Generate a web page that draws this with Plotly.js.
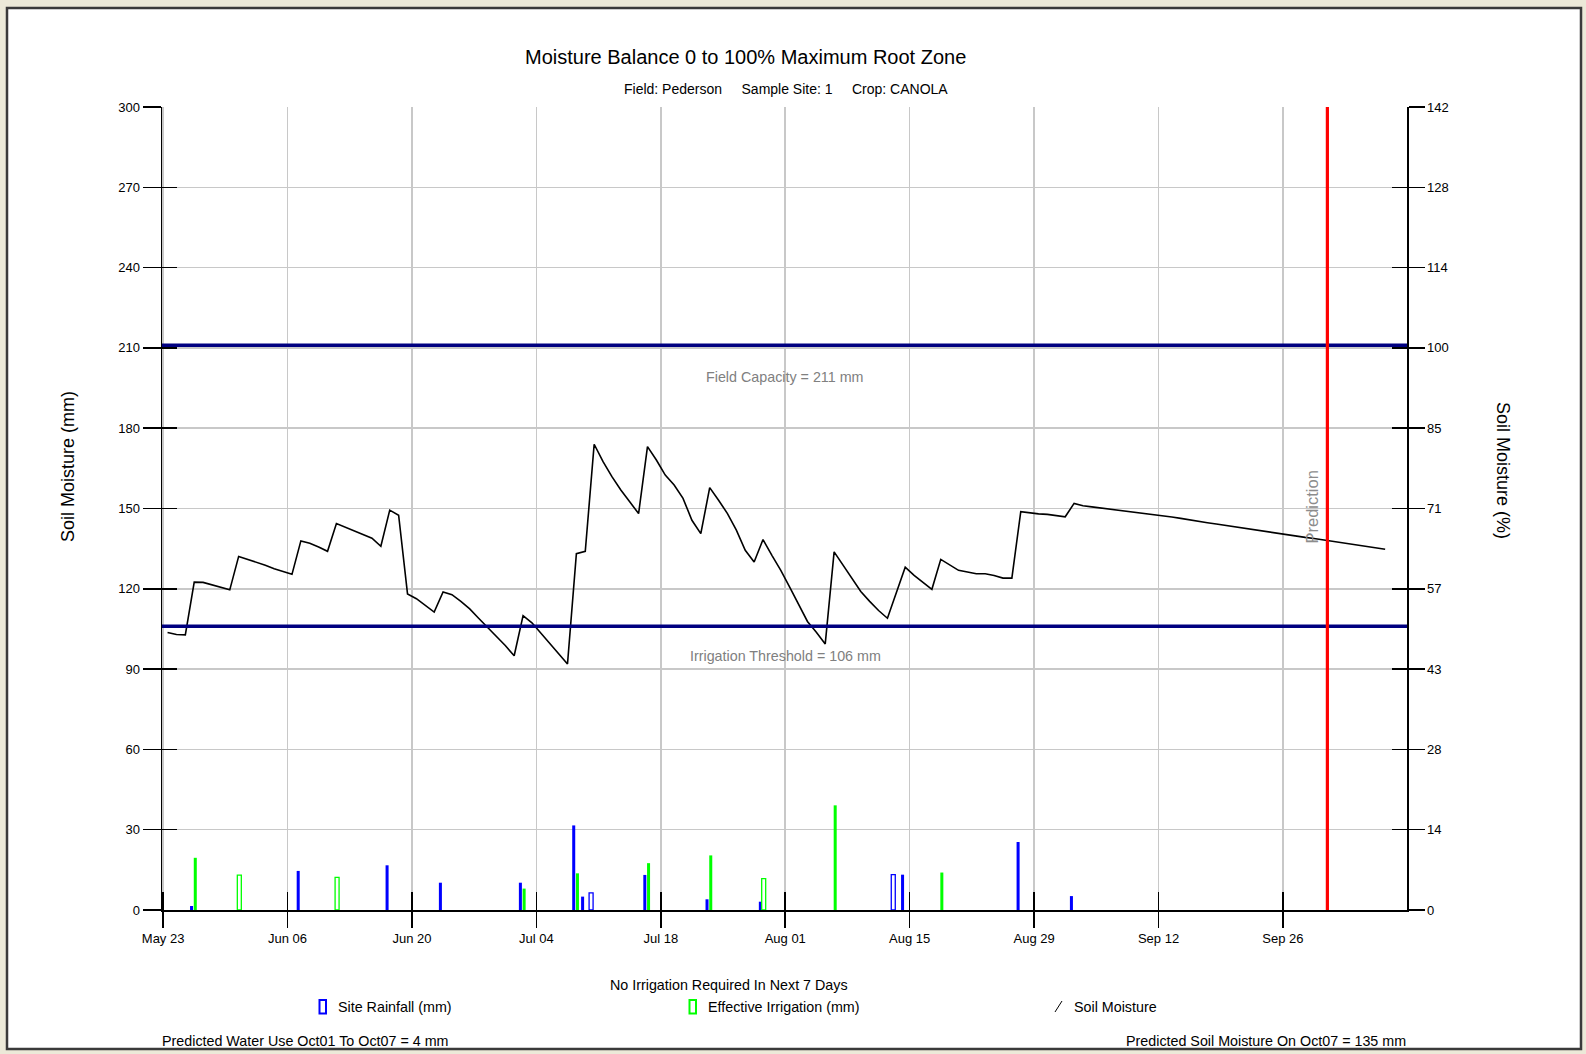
<!DOCTYPE html>
<html>
<head>
<meta charset="utf-8">
<script src="https://cdn.plot.ly/plotly-3.0.1.min.js"></script>
<style>
html,body{margin:0;padding:0;background:#ece9d8;}
#chart{width:1586px;height:1054px;}
</style>
</head>
<body>
<div id="chart"></div>
<script>
// ---------------- DATA ----------------
const startDate = '2011-05-23';   // first day of the soil-moisture series
// Daily soil moisture (mm), May 23 .. Oct 07
const soilMoisture = [
  103.7,102.9,102.8,122.5,122.4,121.5,120.5,119.6,132.1,            // May 23-31
  131.0,130.0,128.8,127.5,126.5,125.4,137.9,137.0,135.6,134.0,       // Jun 1-10
  144.4,143.0,141.8,140.5,138.9,135.9,149.4,147.5,118.1,116.3,       // Jun 11-20
  113.8,111.3,118.8,117.8,115.3,112.5,109.0,105.6,102.3,98.8,        // Jun 21-30
  95.0,110.0,107.3,103.5,99.4,95.6,91.9,133.1,134.0,174.0,           // Jul 1-10
  167.5,161.9,156.9,152.5,148.1,173.1,168.1,162.5,158.8,153.8,       // Jul 11-20
  145.6,140.6,157.8,153.1,148.1,141.9,134.4,130.0,138.4,132.5,126.9, // Jul 21-31
  120.6,114.4,107.8,103.8,99.4,133.8,128.8,124.0,119.0,115.3,        // Aug 1-10
  111.9,109.0,118.8,128.1,125.0,122.3,119.8,131.0,128.8,126.9,       // Aug 11-20
  126.3,125.6,125.6,125.0,124.0,124.0,148.8,148.3,148.0,147.8,147.3, // Aug 21-31
  146.9,151.9,151.0,150.6,150.2,149.8,149.4,149.0,148.6,148.2,       // Sep 1-10
  147.8,147.4,146.8,146.3,145.7,145.2,144.7,144.2,143.7,143.2,       // Sep 11-20
  142.7,142.1,141.6,141.1,140.5,140.0,139.6,139.2,138.8,138.3,       // Sep 21-30
  137.9,137.4,136.8,136.3,135.8,135.3,134.8                          // Oct 1-7
];

// Site rainfall (mm) - solid bars
const rainDates  = ['2011-05-26','2011-06-07','2011-06-17','2011-06-23','2011-07-02','2011-07-08','2011-07-09','2011-07-16','2011-07-23','2011-07-29','2011-08-14','2011-08-27','2011-09-02'];
const rainValues = [1.5,14.6,16.7,10.2,10.2,31.6,5.0,13.1,4.0,3.1,13.2,25.4,5.2];
// Site rainfall (mm) - hollow bars
const rainHollowDates  = ['2011-07-10','2011-08-13'];
const rainHollowValues = [6.4,13.2];

// Effective irrigation (mm) - solid bars
const irrDates  = ['2011-05-26','2011-07-02','2011-07-08','2011-07-16','2011-07-23','2011-08-06','2011-08-18'];
const irrValues = [19.5,8.0,13.7,17.5,20.4,39.1,14.0];
// Effective irrigation (mm) - hollow bars
const irrHollowDates  = ['2011-05-31','2011-06-11','2011-07-29'];
const irrHollowValues = [13.0,12.2,11.7];

const fieldCapacity = 211;        // mm
const irrigationThreshold = 106;  // mm
const predictionDate = '2011-10-01';

const leftTicks = [0,30,60,90,120,150,180,210,240,270,300];
const rightTickLabels = ['0','14','28','43','57','71','85','100','114','128','142'];

const titleText = 'Moisture Balance 0 to 100% Maximum Root Zone';
const subTitleText = 'Field: Pederson\u00a0\u00a0\u00a0\u00a0 Sample Site: 1\u00a0\u00a0\u00a0\u00a0 Crop: CANOLA';

// ---------------- BUILD ----------------
const DAY = 86400000;
function dateSeq(start, n){
  const out = [];
  const t0 = Date.parse(start + 'T00:00:00Z');
  for (let i = 0; i < n; i++){
    out.push(new Date(t0 + i*DAY).toISOString().slice(0,10));
  }
  return out;
}
const smDates = dateSeq(startDate, soilMoisture.length);

const W = 1586, H = 1054;
const L = 162, R = 1407, T = 107, B = 910;
const ax = px => (px - L) / (R - L);
const ay = py => (B - py) / (B - T);

const FONT = 'Liberation Sans, Arial, sans-serif';
const BLUE = '#0000ff', GREEN = '#00ff00';
const SMALL = 14.3;

const traces = [
  { type:'bar', x: rainDates, y: rainValues, marker:{color:BLUE, line:{width:0}},
    width: 0.34*DAY, offset: 0.03*DAY, name:'Site Rainfall (mm)', showlegend:false, hoverinfo:'x+y' },
  { type:'bar', x: rainHollowDates, y: rainHollowValues, marker:{color:'#ffffff', line:{color:BLUE, width:1.3}},
    width: 0.45*DAY, offset: -0.07*DAY, name:'Site Rainfall (mm)', showlegend:false, hoverinfo:'x+y' },
  { type:'bar', x: irrDates, y: irrValues, marker:{color:GREEN, line:{width:0}},
    width: 0.34*DAY, offset: 0.45*DAY, name:'Effective Irrigation (mm)', showlegend:false, hoverinfo:'x+y' },
  { type:'bar', x: irrHollowDates, y: irrHollowValues, marker:{color:'#ffffff', line:{color:GREEN, width:1.3}},
    width: 0.45*DAY, offset: 0.35*DAY, name:'Effective Irrigation (mm)', showlegend:false, hoverinfo:'x+y' },
  { type:'scatter', mode:'lines', x: smDates, y: soilMoisture, xperiod: DAY, xperiodalignment:'middle',
    line:{color:'#000000', width:1.6}, name:'Soil Moisture', showlegend:false },
  // helper traces so the overlay tick axes are drawn
  { type:'scatter', x:[startDate], y:[null], xaxis:'x2', yaxis:'y', showlegend:false, hoverinfo:'skip' },
  { type:'scatter', x:[startDate], y:[null], xaxis:'x', yaxis:'y2', showlegend:false, hoverinfo:'skip' },
  { type:'scatter', x:[startDate], y:[null], xaxis:'x', yaxis:'y3', showlegend:false, hoverinfo:'skip' },
  { type:'scatter', x:[startDate], y:[null], xaxis:'x', yaxis:'y4', showlegend:false, hoverinfo:'skip' }
];

const xRange = ['2011-05-22 21:00', '2011-10-09 23:00'];
const yRange = [0, 300];
const tickFont = {family: FONT, size: 13, color: '#000'};

const xCommon = { type:'date', range:xRange, tick0:startDate, dtick:14*DAY, fixedrange:true, zeroline:false };
const yCommon = { range:yRange, tickvals:leftTicks, fixedrange:true, zeroline:false };

const layout = {
  width: W, height: H,
  margin: {l:L, r:W-R, t:T, b:H-B, pad:0},
  paper_bgcolor: '#ece9d8',
  plot_bgcolor: 'rgba(0,0,0,0)',
  barmode: 'overlay',
  showlegend: false,
  font: {family: FONT, color:'#000'},
  xaxis: Object.assign({}, xCommon, {
    tickformat:'%b %d', ticks:'outside', ticklen:16, tickwidth:1.5, tickcolor:'#000',
    showline:true, linecolor:'#000', linewidth:1.5,
    showgrid:true, gridcolor:'#c8c8c8', gridwidth:1.5, tickfont:tickFont, anchor:'y'
  }),
  xaxis2: Object.assign({}, xCommon, {
    overlaying:'x', anchor:'y', side:'bottom', ticks:'inside', ticklen:18, tickwidth:1.5, tickcolor:'#000',
    showticklabels:false, showgrid:false, showline:false
  }),
  yaxis: Object.assign({}, yCommon, {
    ticks:'outside', ticklen:18, tickwidth:1.5, tickcolor:'#000',
    showline:true, linecolor:'#000', linewidth:1.5,
    showgrid:true, gridcolor:'#c8c8c8', gridwidth:1.5, tickfont:tickFont, anchor:'x', side:'left'
  }),
  yaxis3: Object.assign({}, yCommon, {
    overlaying:'y', anchor:'x', side:'left', ticks:'inside', ticklen:15, tickwidth:1.5, tickcolor:'#000',
    showticklabels:false, showgrid:false, showline:false
  }),
  yaxis2: Object.assign({}, yCommon, {
    overlaying:'y', anchor:'x', side:'right', ticktext:rightTickLabels,
    ticks:'outside', ticklen:16, tickwidth:1.5, tickcolor:'#000',
    showline:true, linecolor:'#000', linewidth:1.5, showgrid:false, tickfont:tickFont
  }),
  yaxis4: Object.assign({}, yCommon, {
    overlaying:'y', anchor:'x', side:'right', ticks:'inside', ticklen:15, tickwidth:1.5, tickcolor:'#000',
    showticklabels:false, showgrid:false, showline:false
  }),
  shapes: [
    // white panel with dark frame
    {type:'rect', xref:'paper', yref:'paper', x0:ax(7), x1:ax(1581), y0:ay(1049), y1:ay(8),
     fillcolor:'#ffffff', line:{color:'#3a3a3a', width:2.5}, layer:'below'},
    // field capacity & irrigation threshold
    {type:'line', xref:'paper', yref:'y', x0:0, x1:1, y0:fieldCapacity, y1:fieldCapacity,
     line:{color:'#000080', width:3.5}},
    {type:'line', xref:'paper', yref:'y', x0:0, x1:1, y0:irrigationThreshold, y1:irrigationThreshold,
     line:{color:'#000080', width:3.5}},
    // prediction line
    {type:'line', xref:'x', yref:'paper', x0:predictionDate, x1:predictionDate, y0:0, y1:1,
     line:{color:'#ff0000', width:3.2}},
    // legend icons
    {type:'rect', xref:'paper', yref:'paper', x0:ax(319.5), x1:ax(326), y0:ay(1013.5), y1:ay(1000),
     fillcolor:'#ffffff', line:{color:BLUE, width:2}},
    {type:'rect', xref:'paper', yref:'paper', x0:ax(689.5), x1:ax(696), y0:ay(1013.5), y1:ay(1000),
     fillcolor:'#ffffff', line:{color:GREEN, width:2}},
    {type:'line', xref:'paper', yref:'paper', x0:ax(1055), x1:ax(1062), y0:ay(1012), y1:ay(1001),
     line:{color:'#000', width:1}}
  ],
  annotations: [
    {text:titleText, xref:'paper', yref:'paper', x:ax(745.5), y:ay(57), showarrow:false,
     xanchor:'center', yanchor:'middle', font:{family:FONT, size:20, color:'#000'}},
    {text:subTitleText, xref:'paper', yref:'paper', x:ax(786), y:ay(89), showarrow:false,
     xanchor:'center', yanchor:'middle', font:{family:FONT, size:14, color:'#000'}},
    {text:'Soil Moisture (mm)', xref:'paper', yref:'paper', x:ax(68), y:ay(467), showarrow:false,
     textangle:-90, xanchor:'center', yanchor:'middle', font:{family:FONT, size:18, color:'#000'}},
    {text:'Soil Moisture (%)', xref:'paper', yref:'paper', x:ax(1503), y:ay(470), showarrow:false,
     textangle:90, xanchor:'center', yanchor:'middle', font:{family:FONT, size:18, color:'#000'}},
    {text:'Field Capacity = ' + fieldCapacity + ' mm', xref:'paper', yref:'paper', x:ax(784), y:ay(377), showarrow:false,
     xanchor:'center', yanchor:'middle', font:{family:FONT, size:SMALL, color:'#808080'}},
    {text:'Irrigation Threshold = ' + irrigationThreshold + ' mm', xref:'paper', yref:'paper', x:ax(785), y:ay(656), showarrow:false,
     xanchor:'center', yanchor:'middle', font:{family:FONT, size:SMALL, color:'#808080'}},
    {text:'Prediction', xref:'paper', yref:'paper', x:ax(1311.5), y:ay(507), showarrow:false,
     textangle:-90, xanchor:'center', yanchor:'middle', font:{family:FONT, size:16.5, color:'#8c8c8c'}},
    {text:'No Irrigation Required In Next 7 Days', xref:'paper', yref:'paper', x:ax(729), y:ay(985), showarrow:false,
     xanchor:'center', yanchor:'middle', font:{family:FONT, size:SMALL, color:'#000'}},
    {text:'Site Rainfall (mm)', xref:'paper', yref:'paper', x:ax(336), y:ay(1007), showarrow:false,
     xanchor:'left', yanchor:'middle', font:{family:FONT, size:SMALL, color:'#000'}},
    {text:'Effective Irrigation (mm)', xref:'paper', yref:'paper', x:ax(706), y:ay(1007), showarrow:false,
     xanchor:'left', yanchor:'middle', font:{family:FONT, size:SMALL, color:'#000'}},
    {text:'Soil Moisture', xref:'paper', yref:'paper', x:ax(1072), y:ay(1007), showarrow:false,
     xanchor:'left', yanchor:'middle', font:{family:FONT, size:SMALL, color:'#000'}},
    {text:'Predicted Water Use Oct01 To Oct07 = 4 mm', xref:'paper', yref:'paper', x:ax(160), y:ay(1041), showarrow:false,
     xanchor:'left', yanchor:'middle', font:{family:FONT, size:SMALL, color:'#000'}},
    {text:'Predicted Soil Moisture On Oct07 = 135 mm', xref:'paper', yref:'paper', x:ax(1408), y:ay(1041), showarrow:false,
     xanchor:'right', yanchor:'middle', font:{family:FONT, size:SMALL, color:'#000'}}
  ]
};

Plotly.newPlot('chart', traces, layout, {displayModeBar:false, staticPlot:true});
</script>
</body>
</html>
